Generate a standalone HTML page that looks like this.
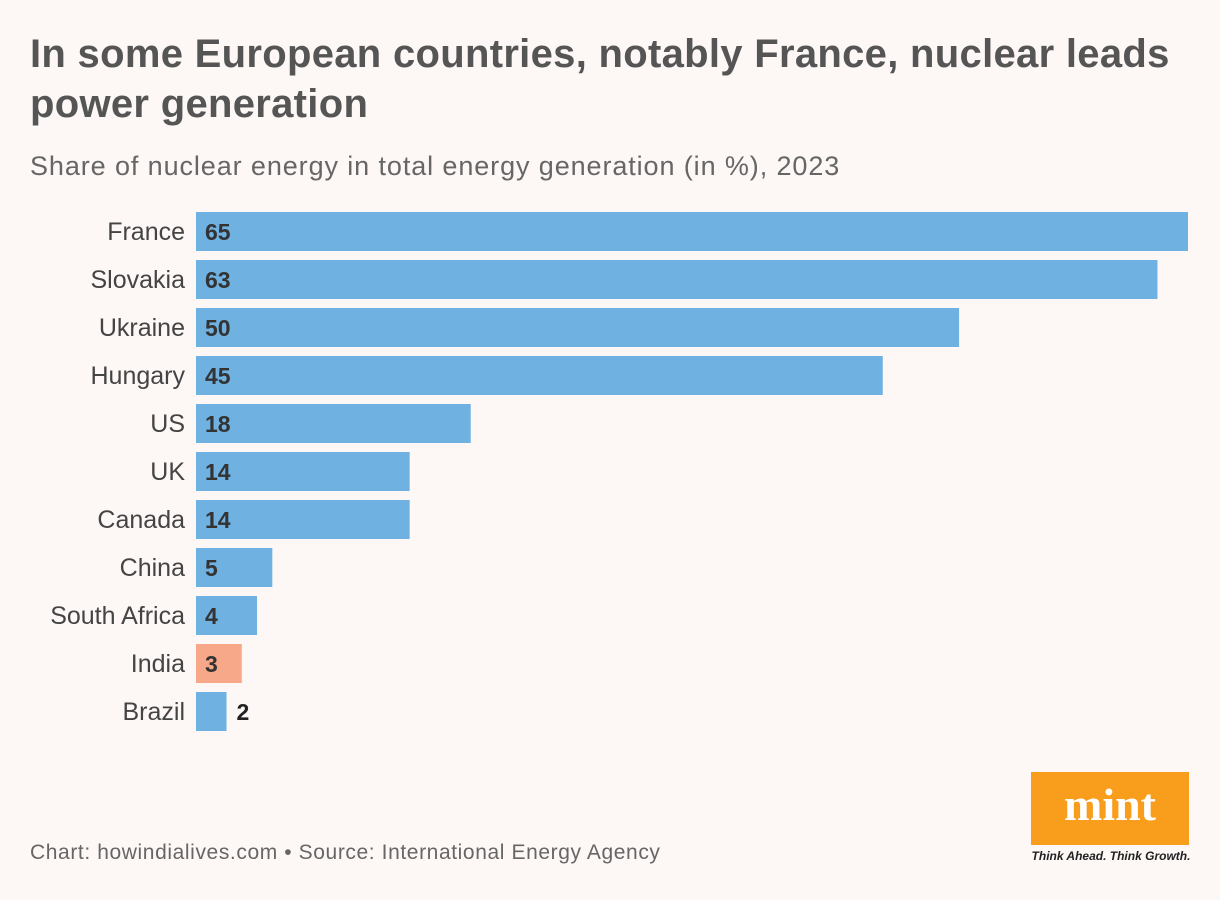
<!DOCTYPE html>
<html><head><meta charset="utf-8"><style>
body{margin:0;width:1220px;height:900px;background:#fdf7f6;font-family:"Liberation Sans",sans-serif;overflow:hidden;position:relative}
.t{position:absolute;left:30px;top:29px;font-size:40px;font-weight:bold;color:#555;line-height:50px;letter-spacing:0.3px;width:1180px}
.s{position:absolute;left:30px;top:151px;font-size:27px;color:#666;letter-spacing:0.9px}
.f{position:absolute;left:30px;top:841px;font-size:21px;color:#666;letter-spacing:0.6px}
</style></head><body>
<div class="t">In some European countries, notably France, nuclear leads<br>power generation</div>
<div class="s">Share of nuclear energy in total energy generation (in %), 2023</div>
<svg id="c" width="1220" height="900" style="position:absolute;left:0;top:0"></svg>
<div class="f">Chart: howindialives.com • Source: International Energy Agency</div>
<div style="position:absolute;left:1031px;top:772px;width:158px;height:73px;background:#f99d1c;color:#fff;font-family:'Liberation Serif',serif;font-weight:bold;font-size:46px;text-align:center;line-height:66px">mint</div>
<div style="position:absolute;left:1031px;top:849px;width:160px;font-size:12px;font-style:italic;font-weight:bold;color:#222;text-align:center">Think Ahead. Think Growth.</div>
<script>
const categories=["France","Slovakia","Ukraine","Hungary","US","UK","Canada","China","South Africa","India","Brazil"];
const values=[65,63,50,45,18,14,14,5,4,3,2];
const highlight=["India"];
const svg=document.getElementById('c');
const NS='http://www.w3.org/2000/svg';
const x0=196,xScale=v=>v*(992/65);
const yPos=i=>212+i*48;
categories.forEach((c,i)=>{
  const v=values[i],w=xScale(v),y=yPos(i);
  const r=document.createElementNS(NS,'rect');
  r.setAttribute('x',x0);r.setAttribute('y',y);r.setAttribute('width',w);r.setAttribute('height',39);
  r.setAttribute('fill',highlight.includes(c)?'#f7a889':'#6fb2e2');
  
  
  svg.appendChild(r);
  const l=document.createElementNS(NS,'text');
  l.setAttribute('x',185);l.setAttribute('y',y+28);l.setAttribute('text-anchor','end');
  l.setAttribute('font-size','25');l.setAttribute('fill','#444');l.textContent=c;
  
  
  svg.appendChild(l);
  const t=document.createElementNS(NS,'text');
  const inside=w>35;
  t.setAttribute('x',inside?x0+9:x0+w+10);t.setAttribute('y',y+28);
  t.setAttribute('font-size','23');t.setAttribute('font-weight','bold');t.setAttribute('fill',inside?'#333':'#222');
  t.textContent=v;
  
  
  svg.appendChild(t);
});
</script>
</body></html>
